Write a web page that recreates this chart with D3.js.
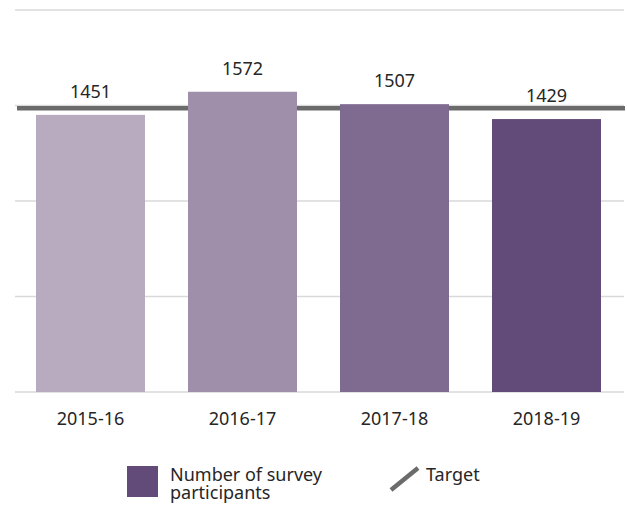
<!DOCTYPE html>
<meta charset="utf-8">
<script src="https://d3js.org/d3.v7.min.js"></script>
<style>
	body{ margin:0; background:#fff; }
	text{ font-family:"Noto Sans", "Open Sans", sans-serif; fill:#262626; }
</style>
<div id="chart"></div>
<script>

// survey participants per year, target line
var years = ["2015-16","2016-17","2017-18","2018-19"]
var participants = [1451,1572,1507,1429]
var target = 1485
var yTicks = [0,500,1000,1500,2000]
var colors = ["#B8AABF","#A08FAA","#7F6B8F","#624B78"]

const width = 627, height = 506

const svg = d3.select("#chart")
  .append("svg")
    .attr("width", width)
    .attr("height", height)

var xScale = d3.scaleBand().domain(years).range([14.5,622.5]).paddingInner(0.283).paddingOuter(0.1415)
var yScale = d3.scaleLinear().domain([0,2000]).range([392,10])

// gridlines
svg.append("g").selectAll("line")
	.data(yTicks)
	.join("line")
	.attr("x1",15).attr("x2",624)
	.attr("y1",d => yScale(d)).attr("y2",d => yScale(d))
	.attr("stroke","#D9D9D9")
	.attr("stroke-width",1.3)

// target line (sits behind the bars)
svg.append("line")
	.attr("x1",17).attr("x2",625)
	.attr("y1",yScale(target)).attr("y2",yScale(target))
	.attr("stroke","#6B6B6B")
	.attr("stroke-width",4.5)

svg.append("g").selectAll("rect")
	.data(participants)
	.join("rect")
	.attr("x",(d,i) => xScale(years[i]))
	.attr("width",xScale.bandwidth())
	.attr("y",d => yScale(d))
	.attr("height",d => yScale(0) - yScale(d))
	.attr("fill",(d,i) => colors[i])

// value labels
svg.append("g").selectAll("text")
	.data(participants)
	.join("text")
	.attr("x",(d,i) => xScale(years[i]) + xScale.bandwidth()/2)
	.attr("y",d => yScale(d) - 17)
	.attr("text-anchor","middle")
	.style("font-size","18px")
	.text(d => d)

// x axis labels
var xAxis = d3.axisBottom(xScale).tickSize(0).tickPadding(0)
var gx = svg.append("g").attr("transform","translate(0,392)").call(xAxis)
gx.select(".domain").remove()
gx.selectAll("text")
	.attr("y",33)
	.attr("dy",0)
	.style("font-size","18px")

// legend
var legend = svg.append("g")
legend.append("rect")
	.attr("x",127).attr("y",466)
	.attr("width",31).attr("height",31)
	.attr("fill",colors[3])
legend.append("text")
	.attr("x",170).attr("y",481)
	.style("font-size","18px")
	.text("Number of survey")
legend.append("text")
	.attr("x",170).attr("y",499)
	.style("font-size","18px")
	.text("participants")
legend.append("line")
	.attr("x1",391).attr("y1",490)
	.attr("x2",418).attr("y2",468)
	.attr("stroke","#6B6B6B")
	.attr("stroke-width",4.5)
legend.append("text")
	.attr("x",426).attr("y",481)
	.style("font-size","18px")
	.text("Target")

</script>
